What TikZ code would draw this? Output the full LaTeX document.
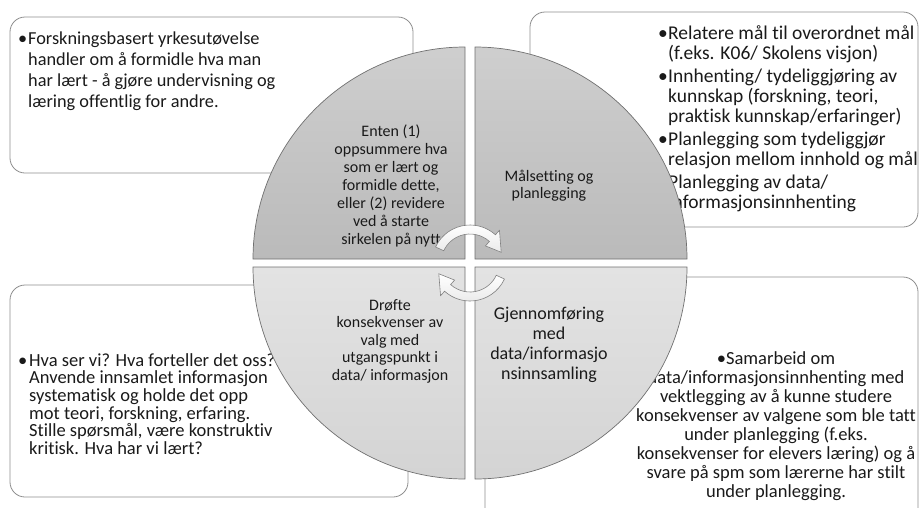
\documentclass[tikz,border=0pt]{standalone}
\usepackage{fontspec}
\setmainfont{Carlito}[Ligatures=CommonOff]
\definecolor{boxline}{HTML}{8E8E8E}
\definecolor{quadline}{HTML}{707070}
\definecolor{inktext}{HTML}{1A1A1A}
\newcommand\bulletmark[1]{\makebox[#1][l]{•}}
\newcommand\hangsp[1]{\hspace*{#1}}
\begin{document}
\begin{tikzpicture}[x=1pt,y=-1pt,
  panel/.style={draw=boxline, fill=white, line width=0.8pt, rounded corners=15pt},
  boxtext/.style={inner sep=0pt, anchor=north west, align=left, text=inktext},
  quadtext/.style={inner sep=0pt, anchor=north, align=center, text=inktext},
  quadtop/.style={draw=quadline, line width=0.7pt, top color=black!19, bottom color=black!27},
  quadbot/.style={draw=quadline, line width=0.7pt, top color=black!11, bottom color=black!17},
  cyclearrow/.style={draw=black!50, line width=0.6pt, top color=white, bottom color=black!8}
]
% page
\useasboundingbox (0,0) rectangle (920,507);
\fill[white] (0,0) rectangle (920,507);

% outer rounded panels
\draw[panel] (10,17) rectangle (413,173);
\draw[panel] (530,12) rectangle (918,227);
\draw[panel] (10,285) rectangle (408,497);
\draw[panel] (485,277) rectangle (918,530);

% panel texts
\node[boxtext, font=\fontsize{18.3}{21}\selectfont] (tltext) at (18,30)
  {\rule{0pt}{14pt}\bulletmark{10pt}Forskningsbasert yrkesutøvelse\\\hangsp{10pt}handler om å formidle hva man\\\hangsp{10pt}har lært - å gjøre undervisning og\\\hangsp{10pt}læring offentlig for andre.};
\node[boxtext, font=\fontsize{19.5}{20}\selectfont] (trtext) at (658,25)
  {\rule{0pt}{14pt}\bulletmark{10pt}Relatere mål til overordnet mål\\\hangsp{10pt}(f.eks. K06/ Skolens visjon)\\[3pt]\bulletmark{10pt}Innhenting/ tydeliggjøring av\\\hangsp{10pt}kunnskap (forskning, teori,\\\hangsp{10pt}praktisk kunnskap/erfaringer)\\[3pt]\bulletmark{10pt}Planlegging som tydeliggjør\\\hangsp{10pt}relasjon mellom innhold og mål\\[3pt]\bulletmark{10pt}Planlegging av data/\\\hangsp{10pt}informasjonsinnhenting};
\node[boxtext, font=\fontsize{18.5}{17.6}\selectfont] (bltext) at (18,352)
  {\rule{0pt}{14pt}\bulletmark{11pt}Hva ser vi? Hva forteller det oss?\\\hangsp{11pt}Anvende innsamlet informasjon\\\hangsp{11pt}systematisk og holde det opp\\\hangsp{11pt}mot teori, forskning, erfaring.\\\hangsp{11pt}Stille spørsmål, være konstruktiv\\\hangsp{11pt}kritisk. Hva har vi lært?};
\node[quadtext, font=\fontsize{18.5}{19}\selectfont] (brtext) at (776,350)
  {\rule{0pt}{14pt}•Samarbeid om\\data/informasjonsinnhenting med\\vektlegging av å kunne studere\\konsekvenser av valgene som ble tatt\\under planlegging (f.eks.\\konsekvenser for elevers læring) og å\\svare på spm som lærerne har stilt\\under planlegging.};

% circle made of four quadrants
\path[quadtop] (465,259) -- ++(180:212) arc[start angle=180, end angle=270, radius=212] -- cycle;
\path[quadtop] (475,259) -- ++(270:212) arc[start angle=270, end angle=360, radius=212] -- cycle;
\path[quadbot] (475,267) -- ++(0:212) arc[start angle=0, end angle=90, radius=212] -- cycle;
\path[quadbot] (465,267) -- ++(90:212) arc[start angle=90, end angle=180, radius=212] -- cycle;

% quadrant texts
\node[quadtext, font=\fontsize{16}{18}\selectfont] (qtl) at (391,124)
  {\rule{0pt}{12pt}Enten (1)\\oppsummere hva\\som er lært og\\formidle dette,\\eller (2) revidere\\ved å starte\\sirkelen på nytt};
\node[quadtext, font=\fontsize{16}{17}\selectfont] (qtr) at (549,169)
  {\rule{0pt}{12pt}Målsetting og\\planlegging};
\node[quadtext, font=\fontsize{16}{17.5}\selectfont] (qbl) at (390,298)
  {\rule{0pt}{12pt}Drøfte\\konsekvenser av\\valg med\\utgangspunkt i\\data/ informasjon};
\node[quadtext, font=\fontsize{18}{20}\selectfont] (qbr) at (549,305)
  {\rule{0pt}{14pt}Gjennomføring\\med\\data/informasjo\\nsinnsamling};

% two curved arrows around the centre
\foreach \rot in {0,180}{
  \pgfmathsetmacro\ta{205+\rot}
  \pgfmathsetmacro\tb{312+\rot}
  \pgfmathsetmacro\tt{341+\rot}
  \path[cyclearrow]
    ([shift={(470,263)}]\ta:38) arc[start angle=\ta, end angle=\tb, radius=38]
    -- ([shift={(470,263)}]\tb:44)
    -- ([shift={(470,263)}]\tt:33)
    -- ([shift={(470,263)}]\tb:23)
    -- ([shift={(470,263)}]\tb:29)
    arc[start angle=\tb, end angle=\ta, radius=29] -- cycle;
}
\end{tikzpicture}
\end{document}
